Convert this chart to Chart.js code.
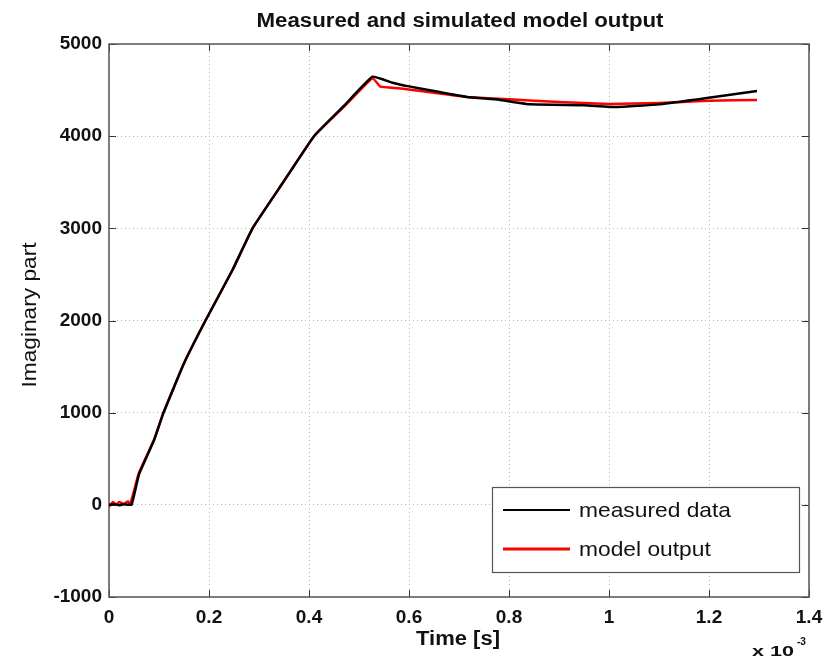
<!DOCTYPE html>
<html>
<head>
<meta charset="utf-8">
<script src="https://cdn.jsdelivr.net/npm/chart.js@4"></script>
<style>
  html, body { margin: 0; padding: 0; background: #fff; }
  #wrap { width: 827px; height: 658px; }
</style>
</head>
<body>
<div id="wrap"><canvas id="c" width="827" height="658"></canvas></div>
<script>
// ---- data (time in units of 1e-3 s) ----
const measuredX = [0, 0.01, 0.02, 0.03, 0.045, 0.06, 0.09, 0.109, 0.15, 0.193, 0.247, 0.287, 0.347, 0.41, 0.47, 0.527,
  0.567, 0.6, 0.65, 0.716, 0.78, 0.842, 0.95, 1.016, 1.1, 1.196, 1.296];
const measuredY = [0, 10, -5, 5, 0, 330, 700, 1000, 1536, 2000, 2548, 3000, 3489, 4000, 4330, 4645,
  4580, 4540, 4490, 4425, 4395, 4345, 4335, 4316, 4345, 4414, 4490];
const modelX = [0, 0.008, 0.015, 0.02, 0.03, 0.038, 0.042, 0.05, 0.06, 0.09, 0.109, 0.15, 0.193, 0.247, 0.287, 0.347, 0.41, 0.47, 0.527,
  0.543, 0.58, 0.65, 0.716, 0.8, 0.9, 1.0, 1.1, 1.148, 1.2, 1.296];
const modelY = [-20, 30, 0, 30, 10, 40, 0, 150, 350, 705, 1000, 1536, 2000, 2548, 3000, 3489, 4000, 4320, 4630,
  4537, 4519, 4470, 4425, 4400, 4370, 4350, 4360, 4370, 4385, 4392];
const seriesNames = ['measured data', 'model output'];
const seriesColors = ['#000000', '#ff0000'];
const xTicks = [0, 0.2, 0.4, 0.6, 0.8, 1, 1.2, 1.4];
const yTicks = [-1000, 0, 1000, 2000, 3000, 4000, 5000];
const titleText = 'Measured and simulated model output';
const xLabel = 'Time [s]';
const yLabel = 'Imaginary part';

const toPts = (xs, ys) => xs.map((x, i) => ({ x: x, y: ys[i] }));
const FONT = '"Liberation Sans", Arial, sans-serif';

// draw text with horizontal scaling so that it spans the target width
function fitText(ctx, text, x, y, width, align) {
  const w = ctx.measureText(text).width;
  const k = width / w;
  ctx.save();
  ctx.textAlign = 'left';
  let x0 = x;
  if (align === 'center') x0 = x - width / 2;
  ctx.translate(x0, y);
  ctx.scale(k, 1);
  ctx.fillText(text, 0, 0);
  ctx.restore();
  return k;
}

const decor = {
  id: 'decor',
  beforeDatasetsDraw(chart) {
    const { ctx, chartArea: a, scales } = chart;
    ctx.save();
    ctx.strokeStyle = '#333';
    ctx.lineWidth = 1;
    const tl = 7;
    ctx.beginPath();
    xTicks.forEach(v => {
      const px = Math.round(scales.x.getPixelForValue(v)) + 0.5;
      ctx.moveTo(px, a.bottom); ctx.lineTo(px, a.bottom - tl);
      ctx.moveTo(px, a.top); ctx.lineTo(px, a.top + tl);
    });
    yTicks.forEach(v => {
      const py = Math.round(scales.y.getPixelForValue(v)) + 0.5;
      ctx.moveTo(a.left, py); ctx.lineTo(a.left + tl, py);
      ctx.moveTo(a.right, py); ctx.lineTo(a.right - tl, py);
    });
    ctx.stroke();
    ctx.strokeStyle = '#555';
    ctx.lineWidth = 1.5;
    ctx.strokeRect(a.left, a.top, a.right - a.left, a.bottom - a.top);
    ctx.restore();
  },
  afterDraw(chart) {
    const { ctx } = chart;
    ctx.save();
    ctx.fillStyle = '#111';
    ctx.textBaseline = 'alphabetic';
    // title
    ctx.font = 'bold 20px ' + FONT;
    fitText(ctx, titleText, 460, 27, 407, 'center');
    // x label
    ctx.font = 'bold 20px ' + FONT;
    fitText(ctx, xLabel, 458, 645, 84, 'center');
    // exponent
    ctx.font = 'bold 15px ' + FONT;
    fitText(ctx, 'x 10', 752, 656, 42, 'left');
    ctx.font = 'bold 11px ' + FONT;
    fitText(ctx, '-3', 797, 645, 9, 'left');
    // y label
    ctx.save();
    ctx.translate(36, 315);
    ctx.rotate(-Math.PI / 2);
    ctx.font = '21px ' + FONT;
    fitText(ctx, yLabel, 0, 0, 145, 'center');
    ctx.restore();
    // legend
    const lx = 492, ly = 487, lw = 307, lh = 85;
    ctx.fillStyle = '#fff';
    ctx.fillRect(lx, ly, lw, lh);
    ctx.strokeStyle = '#555';
    ctx.lineWidth = 1.2;
    ctx.strokeRect(lx + 0.5, ly + 0.5, lw, lh);
    const rows = [510, 549];
    ctx.font = '21px ' + FONT;
    const k = 152 / ctx.measureText(seriesNames[0]).width;
    chart.data.datasets.forEach((ds, i) => {
      ctx.strokeStyle = ds.borderColor;
      ctx.lineWidth = i === 0 ? 2 : 3;
      ctx.beginPath();
      ctx.moveTo(503, rows[i]); ctx.lineTo(570, rows[i]);
      ctx.stroke();
      ctx.fillStyle = '#111';
      ctx.textBaseline = 'middle';
      ctx.font = '21px ' + FONT;
      const w = ctx.measureText(ds.label).width * k;
      fitText(ctx, ds.label, 579, rows[i] + 1, w, 'left');
    });
    ctx.restore();
  }
};

new Chart(document.getElementById('c'), {
  type: 'scatter',
  data: {
    datasets: [
      { label: seriesNames[0], data: toPts(measuredX, measuredY), borderColor: seriesColors[0], backgroundColor: seriesColors[0],
        showLine: true, pointRadius: 0, borderWidth: 2.5, tension: 0.1 },
      { label: seriesNames[1], data: toPts(modelX, modelY), borderColor: seriesColors[1], backgroundColor: seriesColors[1],
        showLine: true, pointRadius: 0, borderWidth: 2.5, tension: 0.1 }
    ]
  },
  options: {
    responsive: false,
    animation: false,
    layout: { padding: { top: 44, right: 18, left: 0, bottom: 0 } },
    plugins: { legend: { display: false }, title: { display: false }, tooltip: { enabled: false } },
    scales: {
      x: {
        type: 'linear', min: 0, max: 1.4,
        afterFit(s) { s.height = 61; s.paddingLeft = 0; s.paddingRight = 0; },
        afterBuildTicks(s) { s.ticks = xTicks.map(v => ({ value: v })); },
        ticks: {
          color: '#111', padding: 9,
          font: { family: FONT, size: 19, weight: 'bold' },
          callback: v => String(Math.round(v * 10) / 10),
          maxRotation: 0, autoSkip: false
        },
        grid: { color: '#b4b4b4', drawTicks: false, lineWidth: 1 },
        border: { display: false, dash: [1, 3] }
      },
      y: {
        type: 'linear', min: -1000, max: 5000,
        afterFit(s) { s.width = 109; s.paddingTop = 0; s.paddingBottom = 0; },
        afterBuildTicks(s) { s.ticks = yTicks.map(v => ({ value: v })); },
        ticks: {
          color: '#111', padding: 7,
          font: { family: FONT, size: 19, weight: 'bold' },
          callback: v => String(v),
          autoSkip: false
        },
        grid: { color: '#b4b4b4', drawTicks: false, lineWidth: 1 },
        border: { display: false, dash: [1, 3] }
      }
    }
  },
  plugins: [decor]
});
</script>
</body>
</html>
